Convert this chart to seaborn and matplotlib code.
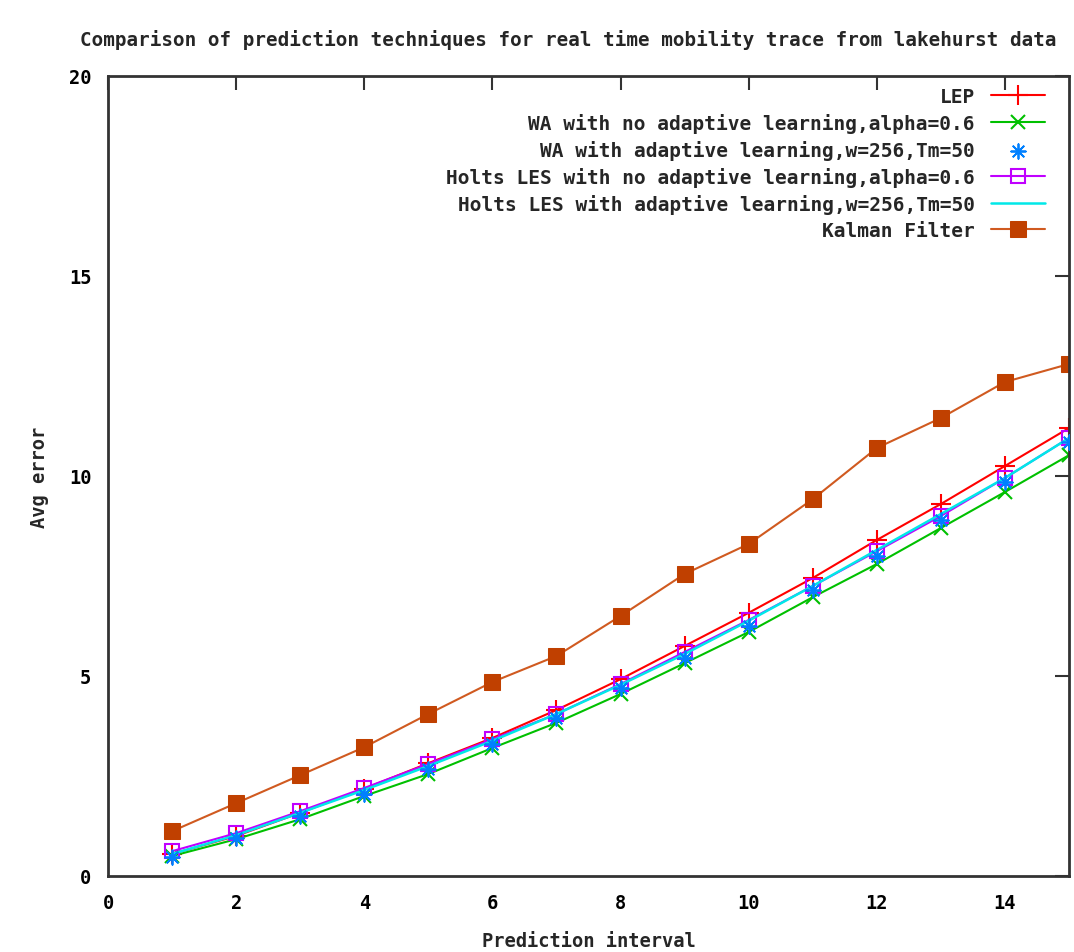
import matplotlib
matplotlib.use("Agg")
import matplotlib.pyplot as plt
import seaborn as sns
import pandas as pd

intervals = list(range(1, 16))
lep = [0.55, 1.0, 1.58, 2.18, 2.82, 3.45, 4.15, 4.92, 5.75, 6.58, 7.45, 8.4, 9.3, 10.25, 11.2]
wa_no = [0.5, 0.92, 1.42, 2.0, 2.55, 3.2, 3.83, 4.55, 5.32, 6.1, 6.97, 7.8, 8.7, 9.6, 10.52]
wa_ad = [0.47, 0.95, 1.5, 2.05, 2.68, 3.3, 3.95, 4.7, 5.45, 6.25, 7.15, 8.0, 8.9, 9.85, 10.85]
holt_no = [0.62, 1.07, 1.62, 2.2, 2.8, 3.42, 4.05, 4.8, 5.6, 6.4, 7.25, 8.12, 9.0, 9.95, 10.95]
holt_ad = [0.55, 1.02, 1.58, 2.15, 2.75, 3.38, 4.05, 4.78, 5.55, 6.38, 7.25, 8.15, 9.05, 9.95, 10.95]
kalman = [1.12, 1.82, 2.52, 3.22, 4.05, 4.85, 5.5, 6.5, 7.55, 8.3, 9.42, 10.7, 11.45, 12.35, 12.8]

labels = ["LEP",
          "WA with no adaptive learning,alpha=0.6",
          "WA with adaptive learning,w=256,Tm=50",
          "Holts LES with no adaptive learning,alpha=0.6",
          "Holts LES with adaptive learning,w=256,Tm=50",
          "Kalman Filter"]
xticks = [0, 2, 4, 6, 8, 10, 12, 14]
yticks = [0, 5, 10, 15, 20]

sns.set_theme(style="white")
plt.rcParams['font.family'] = ['DejaVu Sans Mono']
plt.rcParams['font.weight'] = 'bold'

fig = plt.figure(figsize=(10.74, 9.53), dpi=100)
ax = fig.add_axes([108/1074, 1-877/953, (1069-108)/1074, 800/953])

df = pd.DataFrame({"x": intervals, "lep": lep, "wa_no": wa_no, "wa_ad": wa_ad,
                   "holt_no": holt_no, "holt_ad": holt_ad, "kalman": kalman})

sns.lineplot(data=df, x="x", y="lep", ax=ax, color="#ff0000", lw=1.5, marker="+",
             markersize=15, markeredgewidth=1.5, markeredgecolor="#ff0000", label=labels[0])
sns.lineplot(data=df, x="x", y="wa_no", ax=ax, color="#00c000", lw=1.5, marker="x",
             markersize=10, markeredgewidth=1.5, markeredgecolor="#00c000", label=labels[1])
sns.scatterplot(data=df, x="x", y="wa_ad", ax=ax, color="#0080ff", marker=(8, 2, 0),
                s=110, linewidth=1.3, edgecolor="#0080ff", label=labels[2], zorder=3)
sns.lineplot(data=df, x="x", y="holt_no", ax=ax, color="#c000ff", lw=1.5, marker="s",
             markersize=10, markerfacecolor="none", markeredgecolor="#c000ff",
             markeredgewidth=1.5, label=labels[3])
sns.lineplot(data=df, x="x", y="holt_ad", ax=ax, color="#00e8e8", lw=1.8, label=labels[4])
sns.lineplot(data=df, x="x", y="kalman", ax=ax, color="#d05a20", lw=1.5, marker="s",
             markersize=11, markerfacecolor="#c04000", markeredgecolor="#c04000",
             label=labels[5])

ax.set_xlim(0, 15)
ax.set_ylim(0, 20)
ax.set_xticks(xticks)
ax.set_yticks(yticks)
ax.tick_params(direction="in", length=10, width=1.5, top=True, right=True,
               labelsize=13.5, pad=12, colors="#333333", labelcolor="black")
for s in ax.spines.values():
    s.set_linewidth(2)
    s.set_color("#333333")

ax.set_xlabel("Prediction interval", fontsize=13.5, fontweight="bold", labelpad=14)
ax.set_ylabel("Avg error", fontsize=13.5, fontweight="bold", labelpad=14)

fig.text(80/1074, 1-40/953, "Comparison of prediction techniques for real time mobility trace from lakehurst data",
         fontsize=13.9, fontweight="bold", ha="left", va="center")

leg = ax.legend(loc="upper right", bbox_to_anchor=((1045-108)/961, (877-88)/800),
                markerfirst=False, frameon=False, fontsize=14, labelspacing=0.36,
                handlelength=2.8, handletextpad=0.8, borderpad=0, borderaxespad=0)
for t in leg.get_texts():
    t.set_ha("right")

fig.savefig("out.png", dpi=100)
